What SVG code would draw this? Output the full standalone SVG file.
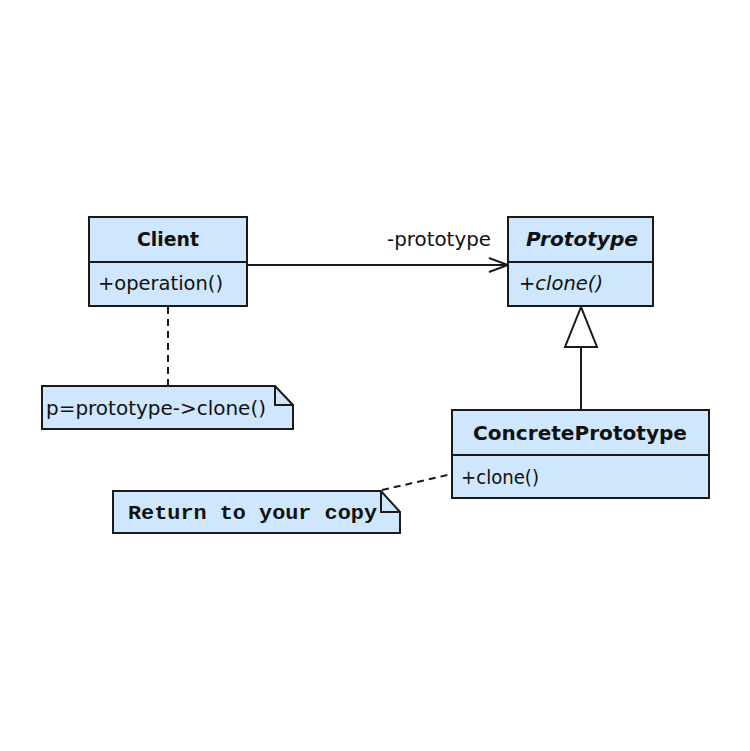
<svg xmlns="http://www.w3.org/2000/svg" width="750" height="751" viewBox="0 0 750 751">
<defs>
<style>
.box{fill:#cfe7fc;stroke:#1a1a1a;stroke-width:2}
.ln{stroke:#1a1a1a;stroke-width:2;fill:none}
.dash{stroke:#1a1a1a;stroke-width:2;fill:none;stroke-dasharray:7,5}
.t{font-family:"DejaVu Sans","Liberation Sans",sans-serif;font-size:19px;fill:#111}
.b{font-weight:bold;font-size:20px}
.i{font-style:italic}
.m{font-family:"Liberation Mono","DejaVu Sans Mono",monospace;font-size:21px;font-weight:bold;fill:#111}
</style>
<marker id="open" markerWidth="24" markerHeight="20" refX="21" refY="10" orient="auto" markerUnits="userSpaceOnUse">
<path d="M2,3 L21,10 L2,17" fill="none" stroke="#1a1a1a" stroke-width="2"/>
</marker>
</defs>
<rect width="750" height="751" fill="#ffffff"/>
<g id="connectors">
<line class="ln" x1="247" y1="265" x2="508" y2="265" marker-end="url(#open)"/>
<text class="t" x="387" y="246" textLength="104" lengthAdjust="spacingAndGlyphs">-prototype</text>
<line class="ln" x1="581" y1="347" x2="581" y2="410"/>
<polygon points="581,307 565,347 597,347" fill="#ffffff" stroke="#1a1a1a" stroke-width="2"/>
<line class="dash" x1="168" y1="307" x2="168" y2="386"/>
<line class="dash" x1="382" y1="490" x2="452" y2="474"/>
</g>
<g id="client">
<rect class="box" x="89" y="217" width="158" height="89"/>
<line class="ln" x1="89" y1="262" x2="247" y2="262"/>
<text class="t b" x="168" y="246" text-anchor="middle" textLength="62" lengthAdjust="spacingAndGlyphs">Client</text>
<text class="t" x="98" y="290" textLength="125" lengthAdjust="spacingAndGlyphs">+operation()</text>
</g>
<g id="prototype">
<rect class="box" x="508" y="217" width="145" height="89"/>
<line class="ln" x1="508" y1="262" x2="653" y2="262"/>
<text class="t b i" x="582" y="246" text-anchor="middle" textLength="112" lengthAdjust="spacingAndGlyphs">Prototype</text>
<text class="t i" x="519" y="290" textLength="84" lengthAdjust="spacingAndGlyphs">+clone()</text>
</g>
<g id="concrete">
<rect class="box" x="452" y="410" width="257" height="88"/>
<line class="ln" x1="452" y1="455" x2="709" y2="455"/>
<text class="t b" x="580" y="440" text-anchor="middle" textLength="214" lengthAdjust="spacingAndGlyphs">ConcretePrototype</text>
<text class="t" x="461" y="484" textLength="78" lengthAdjust="spacingAndGlyphs">+clone()</text>
</g>
<g id="note1">
<path class="box" d="M42,386 L275,386 L293,405 L293,429 L42,429 Z"/>
<path class="ln" d="M275,386 L275,405 L293,405"/>
<text class="t" x="46" y="415" textLength="220" lengthAdjust="spacingAndGlyphs">p=prototype-&gt;clone()</text>
</g>
<g id="note2">
<path class="box" d="M113,491 L381,491 L400,512 L400,533 L113,533 Z"/>
<path class="ln" d="M381,491 L381,512 L400,512"/>
<text class="m" x="128" y="519" textLength="249" lengthAdjust="spacingAndGlyphs">Return to your copy</text>
</g>
</svg>
